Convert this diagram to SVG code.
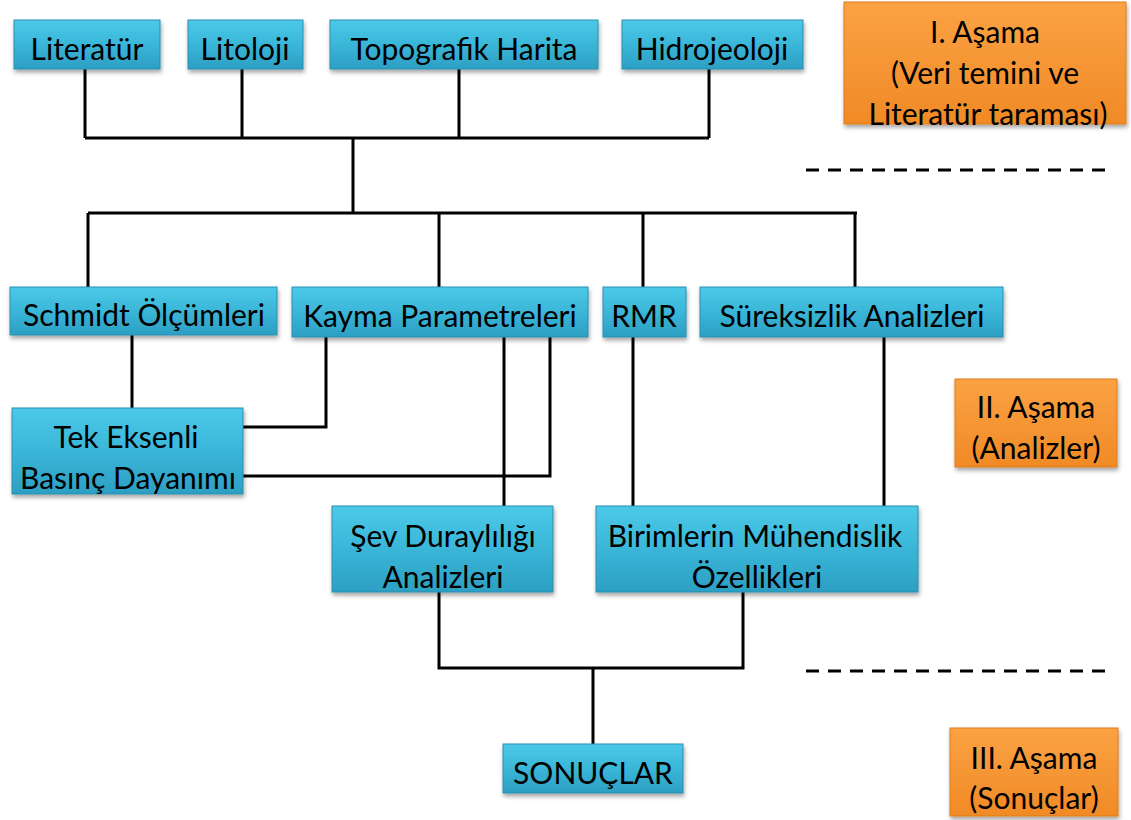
<svg xmlns="http://www.w3.org/2000/svg" width="1131" height="820" viewBox="0 0 1131 820">
<defs>
<linearGradient id="gBlue" x1="0" y1="0" x2="0" y2="1">
<stop offset="0" stop-color="#4cc9e8"/>
<stop offset="0.5" stop-color="#3ab6d8"/>
<stop offset="1" stop-color="#2c9fc3"/>
</linearGradient>
<linearGradient id="gOrange" x1="0" y1="0" x2="0" y2="1">
<stop offset="0" stop-color="#fba244"/>
<stop offset="1" stop-color="#f08a26"/>
</linearGradient>
<filter id="sh" x="-10%" y="-10%" width="120%" height="130%">
<feDropShadow dx="1" dy="3" stdDeviation="2" flood-color="#000" flood-opacity="0.35"/>
</filter>
</defs>
<style>
.b{fill:url(#gBlue);stroke:#2a8fb0;stroke-width:1;filter:url(#sh)}
.o{fill:url(#gOrange);stroke:#e07a18;stroke-width:1;filter:url(#sh)}
.t{font-family:Lato,"Open Sans","DejaVu Sans",sans-serif;font-size:30px;fill:#000;text-anchor:middle}
.c{fill:none;stroke:#000;stroke-width:3}
.d{fill:none;stroke:#000;stroke-width:3;stroke-dasharray:13 9}
</style>
<g id="connectors">
<path class="c" d="M85 69V138M242 69V138M459 69V138M709 69V138M85 138H709M353 138V213"/>
<path class="c" d="M88 213H857M88 213V287M439 213V287M643 213V287M855 213V287"/>
<path class="c" d="M132 335V408M326 337V427H243M550 337V476H243M504 337V506"/>
<path class="c" d="M633 337V506M884 337V506"/>
<path class="c" d="M439 592V668H743V592M593 668V744"/>
</g>
<g id="separators">
<line class="d" x1="806" y1="170" x2="1106" y2="170"/>
<line class="d" x1="806" y1="671" x2="1106" y2="671"/>
</g>
<g id="n-literatur"><rect class="b" x="14" y="20" width="146" height="49"/><text class="t" x="87" y="60">Literatür</text></g>
<g id="n-litoloji"><rect class="b" x="188" y="20" width="115" height="49"/><text class="t" x="245" y="60">Litoloji</text></g>
<g id="n-topografik"><rect class="b" x="330" y="20" width="268" height="49"/><text class="t" x="464" y="60">Topografik Harita</text></g>
<g id="n-hidrojeoloji"><rect class="b" x="622" y="20" width="181" height="49"/><text class="t" x="712" y="60">Hidrojeoloji</text></g>
<g id="n-asama1"><rect class="o" x="844" y="2" width="282" height="122"/><text class="t" x="985" y="43">I. Aşama</text><text class="t" x="985" y="84">(Veri temini ve</text><text class="t" x="988" y="125">Literatür taraması)</text></g>
<g id="n-schmidt"><rect class="b" x="10" y="287" width="267" height="48"/><text class="t" x="144" y="326">Schmidt Ölçümleri</text></g>
<g id="n-kayma"><rect class="b" x="292" y="287" width="296" height="50"/><text class="t" x="440" y="327">Kayma Parametreleri</text></g>
<g id="n-rmr"><rect class="b" x="603" y="287" width="83" height="50"/><text class="t" x="644" y="327">RMR</text></g>
<g id="n-sureksizlik"><rect class="b" x="700" y="287" width="303" height="50"/><text class="t" x="852" y="327">Süreksizlik Analizleri</text></g>
<g id="n-asama2"><rect class="o" x="955" y="379" width="162" height="88"/><text class="t" x="1036" y="418">II. Aşama</text><text class="t" x="1036" y="459">(Analizler)</text></g>
<g id="n-tek"><rect class="b" x="12" y="408" width="231" height="86"/><text class="t" x="126" y="448">Tek Eksenli</text><text class="t" x="128" y="489">Basınç Dayanımı</text></g>
<g id="n-sev"><rect class="b" x="332" y="506" width="221" height="86"/><text class="t" x="443" y="547">Şev Duraylılığı</text><text class="t" x="443" y="588">Analizleri</text></g>
<g id="n-birimler"><rect class="b" x="596" y="506" width="322" height="86"/><text class="t" x="755" y="547">Birimlerin Mühendislik</text><text class="t" x="757" y="588">Özellikleri</text></g>
<g id="n-sonuclar"><rect class="b" x="503" y="744" width="180" height="49"/><text class="t" x="593" y="784">SONUÇLAR</text></g>
<g id="n-asama3"><rect class="o" x="950" y="728" width="168" height="88"/><text class="t" x="1034" y="769">III. Aşama</text><text class="t" x="1034" y="809">(Sonuçlar)</text></g>
</svg>
